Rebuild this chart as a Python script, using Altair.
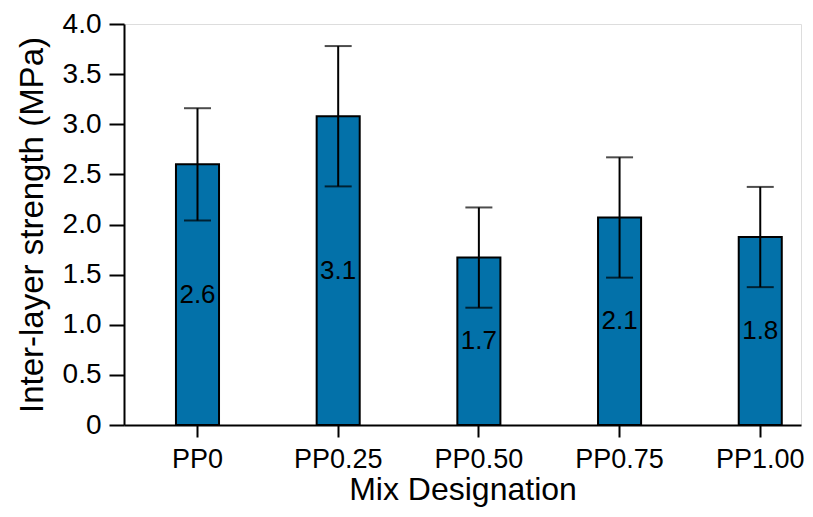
import altair as alt
import pandas as pd

mixes = ["PP0", "PP0.25", "PP0.50", "PP0.75", "PP1.00"]
strength = [2.60, 3.08, 1.67, 2.07, 1.875]
err = [0.56, 0.70, 0.50, 0.60, 0.50]
labels = ["2.6", "3.1", "1.7", "2.1", "1.8"]

df = pd.DataFrame({
    "mix": mixes,
    "value": strength,
    "err": err,
    "label": labels,
})

FONT = "Liberation Sans"
BLUE = "#0371A9"

xscale = alt.Scale(domain=mixes, paddingInner=0.694, paddingOuter=0.253, align=0.73)
yscale = alt.Scale(domain=[0, 4], nice=False, zero=True)

x_enc = alt.X(
    "mix:N", scale=xscale, sort=mixes,
    axis=alt.Axis(
        title="Mix Designation", labelAngle=0, labelFont=FONT, labelFontSize=27,
        labelColor="black", titleFont=FONT, titleFontSize=32, titleFontWeight="normal",
        titleColor="black", tickSize=12, tickWidth=2, tickColor="black",
        domainColor="black", domainWidth=2, labelPadding=9, titlePadding=2,
    ),
)

yvals = [i * 0.25 for i in range(17)]
y_axis = alt.Axis(
    title="Inter-layer strength (MPa)", values=yvals,
    labelExpr="datum.value % 0.5 == 0 ? (datum.value == 0 ? '0' : format(datum.value, '.1f')) : ''",
    labelFont=FONT, labelFontSize=28, labelColor="black",
    titleFont=FONT, titleFontSize=33, titleFontWeight="normal", titleColor="black",
    tickSize={"condition": {"test": "datum.value % 0.5 == 0", "value": 15}, "value": 9},
    tickWidth=2, tickColor="black", domainColor="black", domainWidth=2,
    labelPadding=8, titlePadding=13, grid=False,
)

base = alt.Chart(df)

bars = base.mark_bar(color=BLUE, stroke="black", strokeWidth=2).encode(
    x=x_enc,
    y=alt.Y("value:Q", scale=yscale, axis=y_axis),
)

err_df = base.transform_calculate(
    lo="datum.value - datum.err", hi="datum.value + datum.err", mid="datum.value / 2"
)

rule = err_df.mark_rule(color="black", strokeWidth=2).encode(
    x=alt.X("mix:N", scale=xscale, sort=mixes),
    y=alt.Y("lo:Q", scale=yscale),
    y2="hi:Q",
)
cap_lo = err_df.mark_tick(color="black", size=27, thickness=2).encode(
    x=alt.X("mix:N", scale=xscale, sort=mixes),
    y=alt.Y("lo:Q", scale=yscale),
)
cap_hi = err_df.mark_tick(color="black", size=27, thickness=2).encode(
    x=alt.X("mix:N", scale=xscale, sort=mixes),
    y=alt.Y("hi:Q", scale=yscale),
)
text = err_df.mark_text(font=FONT, fontSize=26, color="black", baseline="middle").encode(
    x=alt.X("mix:N", scale=xscale, sort=mixes),
    y=alt.Y("mid:Q", scale=yscale),
    text="label:N",
)

chart = alt.layer(bars, rule, cap_lo, cap_hi, text).properties(
    width=677, height=401,
    autosize=alt.AutoSizeParams(type="none"),
    padding={"left": 116, "top": 16, "right": 4, "bottom": 84},
).configure_view(stroke=None).configure(background="white")

chart.save("out.html", embed_options={"renderer": "svg", "actions": False})
